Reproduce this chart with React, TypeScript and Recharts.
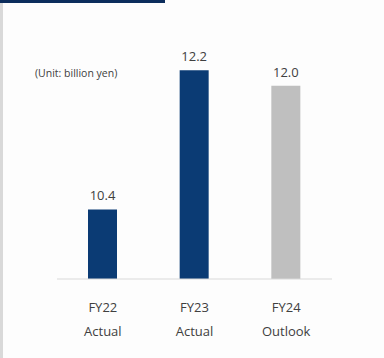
import React from 'react';
import { BarChart, Bar, XAxis, YAxis, Cell, LabelList } from 'recharts';

const categories = ['FY22', 'FY23', 'FY24'];
const subLabels = ['Actual', 'Actual', 'Outlook'];
const values = [10.4, 12.2, 12.0];
const isOutlook = [false, false, true];

const data = categories.map((c, i) => ({ name: c, sub: subLabels[i], value: values[i], outlook: isOutlook[i] }));

const FONT = '"Open Sans", "Noto Sans", sans-serif';
const TEXT = '#404040';

const CategoryTick = (props: any) => {
  const { x, y, payload, index } = props;
  return (
    <g>
      <text x={x} y={y + 20} textAnchor="middle" dominantBaseline="central" fontSize={13} fill={TEXT} fontFamily={FONT}>
        {payload.value}
      </text>
      <text x={x} y={y + 44} textAnchor="middle" dominantBaseline="central" fontSize={13} fill={TEXT} fontFamily={FONT}>
        {subLabels[index]}
      </text>
    </g>
  );
};

export default function App() {
  return (
    <div style={{ position: 'absolute', left: 0, top: 0, width: 384, height: 358, background: '#fdfdfd', overflow: 'hidden' }}>
      <div style={{ position: 'absolute', left: 0, top: 0, width: 3, height: 358, background: '#d9d9d9' }} />
      <div style={{ position: 'absolute', left: 0, top: 0, width: 165, height: 3, background: '#0c2d5c' }} />
      <div style={{ position: 'absolute', left: 35, top: 66, fontSize: 10.5, color: TEXT, fontFamily: FONT, whiteSpace: 'nowrap' }}>
        (Unit: billion yen)
      </div>
      <BarChart width={384} height={358} data={data} margin={{ top: 47, right: 52, bottom: 0, left: 57 }}>
        <XAxis
          dataKey="name"
          height={79}
          axisLine={{ stroke: '#d9d9d9' }}
          tickLine={false}
          tick={<CategoryTick />}
          interval={0}
        />
        <YAxis hide domain={[9.5, 12.5]} allowDataOverflow />
        <Bar dataKey="value" barSize={29} isAnimationActive={false}>
          {data.map((d, i) => (
            <Cell key={i} fill={d.outlook ? '#bfbfbf' : '#0b3b74'} />
          ))}
          <LabelList
            dataKey="value"
            position="top"
            offset={9}
            formatter={(v: any) => Number(v).toFixed(1)}
            style={{ fontSize: 13, fill: TEXT, fontFamily: FONT }}
          />
        </Bar>
      </BarChart>
    </div>
  );
}
